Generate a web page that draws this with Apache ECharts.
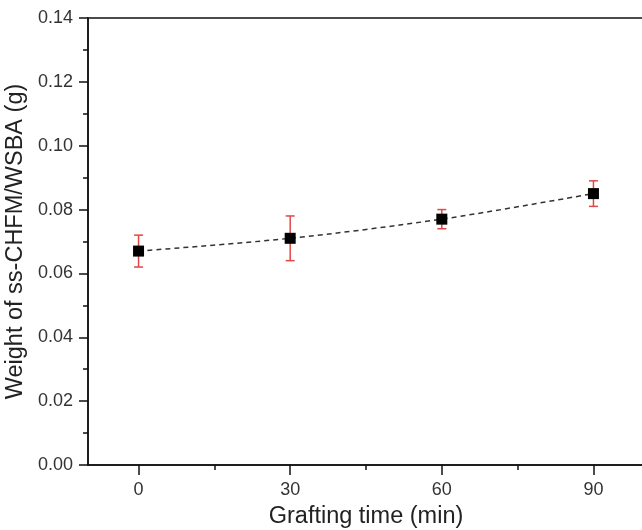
<!DOCTYPE html>
<html>
<head>
<meta charset="utf-8">
<script src="https://cdn.jsdelivr.net/npm/echarts@6/dist/echarts.min.js"></script>
<style>
  html, body { margin: 0; padding: 0; background: #fff; }
  #chart { width: 642px; height: 530px; }
</style>
</head>
<body>
<div id="chart"></div>
<script>
// grafting time (min) and weight (g)
let times = [0, 30, 60, 90];
let weights = [0.067, 0.071, 0.077, 0.085];
let errLow = [0.062, 0.064, 0.074, 0.081];
let errHigh = [0.072, 0.078, 0.080, 0.089];
let xMajor = [0, 30, 60, 90];
let xMinor = [15, 45, 75];

let font = 'Liberation Sans, Arial, sans-serif';
let axisColor = '#111';

let chart = echarts.init(document.getElementById('chart'));

let points = times.map((t, i) => [t, weights[i]]);
let bars = times.map((t, i) => [t, errLow[i], errHigh[i]]);

let option = {
    animation: false,
    grid: {
        left: 88,
        right: -2,
        top: 18,
        bottom: 65,
        outerBoundsMode: 'none',
        containLabel: false,
        show: true,
        borderColor: axisColor,
        borderWidth: 1.5
    },
    xAxis: [
        {
            type: 'value',
            min: -10,
            max: 100,
            name: 'Grafting time (min)',
            nameLocation: 'middle',
            nameGap: 40,
            nameTextStyle: { fontFamily: font, fontSize: 23.5, color: '#222' },
            axisLine: { show: true, onZero: false, lineStyle: { color: axisColor, width: 1.5 } },
            axisTick: { show: true, length: 10, customValues: xMajor,
                lineStyle: { color: axisColor, width: 1.5 } },
            axisLabel: { fontFamily: font, fontSize: 18, color: '#333', margin: 16,
                customValues: xMajor },
            splitLine: { show: false }
        },
        {
            // minor ticks only
            type: 'value',
            min: -10,
            max: 100,
            position: 'bottom',
            axisLine: { show: false, onZero: false },
            axisTick: { show: true, length: 5, customValues: xMinor,
                lineStyle: { color: axisColor, width: 1.5 } },
            axisLabel: { show: false },
            splitLine: { show: false }
        }
    ],
    yAxis: {
        type: 'value',
        min: 0,
        max: 0.14,
        interval: 0.02,
        name: 'Weight of ss-CHFM/WSBA (g)',
        nameLocation: 'middle',
        nameGap: 52,
        nameTextStyle: { fontFamily: font, fontSize: 23.5, color: '#222' },
        axisLine: { show: true, onZero: false, lineStyle: { color: axisColor, width: 1.5 } },
        axisTick: { show: true, length: 9, lineStyle: { color: axisColor, width: 1.5 } },
        minorTick: { show: true, splitNumber: 2, length: 5, lineStyle: { color: axisColor, width: 1.5 } },
        axisLabel: { fontFamily: font, fontSize: 18, color: '#333', margin: 15,
            formatter: v => v.toFixed(2) },
        splitLine: { show: false }
    },
    series: [
        {
            type: 'custom',
            data: bars,
            z: 2,
            renderItem: (params, api) => {
                let x = api.value(0);
                let lo = api.coord([x, api.value(1)]);
                let hi = api.coord([x, api.value(2)]);
                let w = 4.5;
                let style = { stroke: '#e04848', lineWidth: 1.5 };
                return {
                    type: 'group',
                    children: [
                        { type: 'line', shape: { x1: lo[0], y1: lo[1], x2: hi[0], y2: hi[1] }, style: style },
                        { type: 'line', shape: { x1: lo[0] - w, y1: lo[1], x2: lo[0] + w, y2: lo[1] }, style: style },
                        { type: 'line', shape: { x1: hi[0] - w, y1: hi[1], x2: hi[0] + w, y2: hi[1] }, style: style }
                    ]
                };
            }
        },
        {
            type: 'line',
            data: points,
            z: 3,
            smooth: 0.3,
            symbol: 'rect',
            symbolSize: 11,
            itemStyle: { color: '#000' },
            lineStyle: { color: '#333', width: 1.5, type: [5, 4] }
        }
    ]
};

chart.setOption(option);
</script>
</body>
</html>
